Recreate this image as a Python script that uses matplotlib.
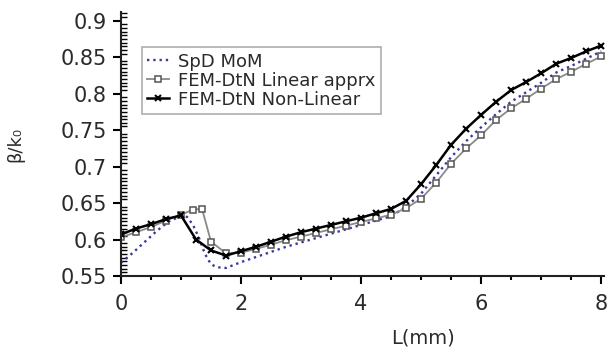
import numpy as np
import matplotlib
matplotlib.use('Agg')
import matplotlib.pyplot as plt
from matplotlib.ticker import MultipleLocator, FuncFormatter

# SpD MoM (dotted blue)
x_mom = [0, 0.2, 0.4, 0.6, 0.8, 1.0, 1.1, 1.2, 1.3, 1.4, 1.5, 1.6, 1.75, 2.0, 2.25, 2.5,
         2.75, 3.0, 3.25, 3.5, 3.75, 4.0, 4.25, 4.5, 4.75, 5.0, 5.25, 5.5, 5.75, 6.0,
         6.25, 6.5, 6.75, 7.0, 7.25, 7.5, 7.75, 8.0]
y_mom = [0.568, 0.582, 0.597, 0.612, 0.625, 0.632, 0.631, 0.620, 0.602, 0.580, 0.566, 0.562,
         0.561, 0.569, 0.576, 0.583, 0.590, 0.596, 0.602, 0.608, 0.614, 0.620, 0.626, 0.632,
         0.645, 0.663, 0.688, 0.713, 0.735, 0.754, 0.772, 0.789, 0.802, 0.815, 0.829, 0.838,
         0.848, 0.858]

# FEM-DtN linear approximation (squares)
x_lin = [0, 0.25, 0.5, 0.75, 1.0, 1.2, 1.35, 1.5, 1.75, 2.0, 2.25, 2.5, 2.75, 3.0, 3.25,
         3.5, 3.75, 4.0, 4.25, 4.5, 4.75, 5.0, 5.25, 5.5, 5.75, 6.0, 6.25, 6.5, 6.75, 7.0,
         7.25, 7.5, 7.75, 8.0]
y_lin = [0.603, 0.610, 0.617, 0.626, 0.634, 0.641, 0.642, 0.597, 0.581, 0.582, 0.587, 0.593,
         0.599, 0.604, 0.609, 0.614, 0.619, 0.624, 0.629, 0.634, 0.643, 0.656, 0.678, 0.704,
         0.725, 0.743, 0.764, 0.780, 0.793, 0.807, 0.820, 0.830, 0.841, 0.851]

# FEM-DtN non-linear (x markers)
x_nl = [0, 0.25, 0.5, 0.75, 1.0, 1.25, 1.5, 1.75, 2.0, 2.25, 2.5, 2.75, 3.0, 3.25, 3.5,
        3.75, 4.0, 4.25, 4.5, 4.75, 5.0, 5.25, 5.5, 5.75, 6.0, 6.25, 6.5, 6.75, 7.0, 7.25,
        7.5, 7.75, 8.0]
y_nl = [0.607, 0.615, 0.621, 0.628, 0.633, 0.600, 0.585, 0.578, 0.584, 0.590, 0.597, 0.604,
        0.610, 0.615, 0.620, 0.625, 0.630, 0.636, 0.642, 0.653, 0.676, 0.702, 0.730, 0.752,
        0.771, 0.789, 0.805, 0.816, 0.828, 0.841, 0.849, 0.858, 0.866]

txt = '#2a2a2a'

fig = plt.figure(figsize=(6.11, 3.52), dpi=100)
ax = fig.add_axes([0.198, 0.216, 0.79, 0.75])

ax.plot(x_mom, y_mom, linestyle=':', color='#3a3a9a', linewidth=1.7, label='SpD MoM')
ax.plot(x_lin, y_lin, color='#8a8a8a', linewidth=1.3, marker='s', markersize=5,
        markerfacecolor='white', markeredgecolor='#555555', markeredgewidth=1.1,
        label='FEM-DtN Linear apprx')
ax.plot(x_nl, y_nl, color='black', linewidth=1.8, marker='x', markersize=5,
        markeredgewidth=1.5, label='FEM-DtN Non-Linear')

ax.set_xlim(0, 8.04)
ax.set_ylim(0.55, 0.912)

for s in ['top', 'right']:
    ax.spines[s].set_visible(False)
for s in ['left', 'bottom']:
    ax.spines[s].set_linewidth(1.5)
    ax.spines[s].set_color('#222222')

ax.xaxis.set_major_locator(MultipleLocator(2))
ax.xaxis.set_minor_locator(MultipleLocator(0.5))
ax.yaxis.set_major_locator(MultipleLocator(0.05))
ax.yaxis.set_minor_locator(MultipleLocator(0.005))
ax.yaxis.set_major_formatter(FuncFormatter(lambda v, p: '%g' % round(v, 3)))

ax.tick_params(axis='x', which='major', direction='out', length=6, width=1.5,
               pad=7, labelsize=15, labelcolor=txt)
ax.tick_params(axis='x', which='minor', direction='out', length=3, width=1.5)
ax.tick_params(axis='y', which='major', direction='out', length=6, width=1.5,
               pad=4, labelsize=15, labelcolor=txt)
ax.tick_params(axis='y', which='minor', direction='in', length=4, width=1.0)

ax.set_xlabel('L(mm)', fontsize=14, color=txt)
ax.xaxis.set_label_coords(0.625, -0.2)
ax.set_ylabel('β/k₀', fontsize=13, color=txt)
ax.yaxis.set_label_coords(-0.2, 0.5)

leg = ax.legend(loc='upper left', bbox_to_anchor=(0.025, 0.9), fontsize=13,
                handlelength=1.2, handletextpad=0.5, borderpad=0.3, labelspacing=0.05,
                borderaxespad=0.5, fancybox=False, frameon=True)
leg.get_frame().set_edgecolor('#999999')
leg.get_frame().set_linewidth(1.2)
for t in leg.get_texts():
    t.set_color(txt)

fig.savefig('out.png', dpi=100)
